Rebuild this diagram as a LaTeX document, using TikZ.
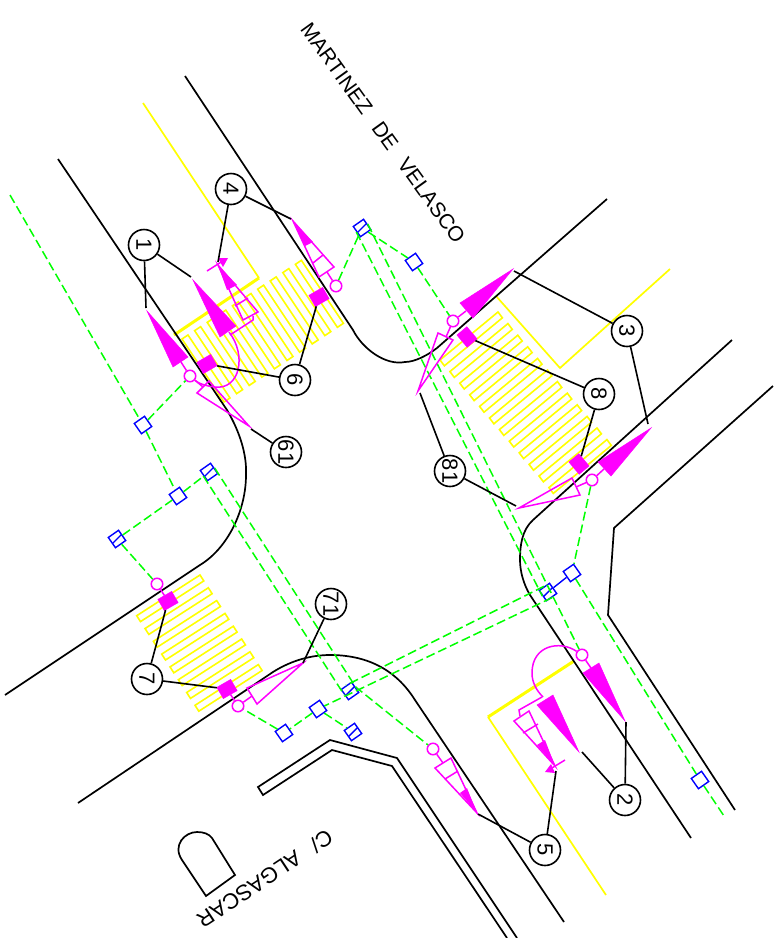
\documentclass[tikz,border=0pt]{standalone}
\usepackage{fontspec}
\setmainfont{Liberation Sans}
\newfontfamily\streetfont[WordSpace=2.6]{Liberation Sans}

\definecolor{sigpink}{RGB}{255,0,255}
\definecolor{ductgreen}{RGB}{0,255,0}
\definecolor{paintyellow}{RGB}{255,255,0}
\definecolor{pitblue}{RGB}{0,0,255}

\tikzset{
	kerb/.style={black, line width=1.7pt},
	paint/.style={paintyellow, line width=1.7pt},
	stopline/.style={paintyellow, line width=3pt},
	zebra/.style={paintyellow, line width=1.6pt},
	duct/.style={ductgreen, line width=1.5pt, dash pattern=on 9pt off 4pt},
	sig/.style={sigpink, line width=1.5pt},
	sigfill/.style={fill=sigpink, draw=sigpink, line width=0.5pt},
	head/.style={draw=sigpink, line width=1.5pt, circle, minimum size=11.5pt, inner sep=0pt},
	lamp/.style={fill=sigpink, draw=sigpink, minimum width=16pt, minimum height=13pt, inner sep=0pt},
	pit/.style={draw=pitblue, line width=1.4pt, minimum size=12.5pt, inner sep=0pt, rotate=35},
	pitx/.style={pit, path picture={\draw[pitblue, line width=1.4pt] (path picture bounding box.south west) -- (path picture bounding box.north east);}},
	numcircle/.style={draw, line width=1.6pt, circle, minimum size=31pt, inner sep=0pt, rotate=-90, font=\fontsize{22}{22}\selectfont},
	leader/.style={black, line width=1.6pt},
	street/.style={font=\streetfont\fontsize{21}{21}\selectfont}
}

\newcommand{\zebrarow}[9]{%
	\foreach \i in {1,...,#3}
		\draw[zebra] ({#1+(\i-1)*#4},{#2+(\i-1)*#5}) -- ++(#6,#7) -- ++(#8,#9) -- ++(-#6,-#7) -- cycle;
}

\begin{document}
\begin{tikzpicture}[x=1pt, y=-1pt]
	\useasboundingbox (0,0) rectangle (782,938);

	\zebrarow{182}{339}{10}{12.6}{-8.3}{42}{63}{6}{-4}
	\zebrarow{440}{360}{12}{9.9}{11.6}{58}{-48}{4.4}{5.8}
	\zebrarow{136.7}{615.7}{8}{8.33}{12.8}{63.3}{-40.7}{3.8}{5.9}

	\draw[paint] (143,103) -- (259,278);
	\draw[stopline] (259,278) -- (174,335);
	\draw[paint] (670,269) -- (560,368) -- (496,296);
	\draw[paint] (606,895) -- (488,717);
	\draw[stopline] (488,717) -- (574,661);

	\draw[kerb] (185,76) -- (353,330) .. controls (362,348) and (385,366) .. (405,362) .. controls (415,362) and (428,355) .. (437,348) -- (607,199);
	\draw[kerb] (58,159) -- (227,410) .. controls (240,432) and (247,455) .. (246,475) .. controls (246,510) and (228,548) .. (200,565) -- (5,695);
	\draw[kerb] (78,803) -- (273,672) .. controls (292,660) and (312,655) .. (330,655) .. controls (365,655) and (395,668) .. (415,700) -- (564,922);
	\draw[kerb] (732,340) -- (533,520) .. controls (522,530) and (520,545) .. (520,560) .. controls (520,572) and (524,585) .. (530,595) -- (691,838);
	\draw[kerb] (773,386) -- (614,528) -- (608,615) -- (735,810);
	\draw[kerb] (517,938) -- (397,758) -- (330,740) -- (258,787) -- (263,795) -- (332,750) -- (392,766) -- (507,938);
	\draw[kerb] (235,875) -- (206,896) -- (182,860) .. controls (172,845) and (185,832) .. (197,832) .. controls (204,832) and (209,834) .. (212,838) -- cycle;

	\node (martinez) [street, rotate=-54.3] at (383,133) {MARTINEZ DE VELASCO};
	\node (algascar) [street, font=\streetfont\fontsize{22}{22}\selectfont, rotate=213.5] at (265,879) {C/ ALGASCAR};

	\node (pa) [pit] at (143,425) {};
	\node (pb) [pit] at (178,496) {};
	\node (pc) [pitx] at (209,472) {};
	\node (pd) [pitx] at (117,539) {};
	\node (pe) [pitx] at (362,228) {};
	\node (pf) [pit] at (414,262) {};
	\node (pg) [pit] at (572,573) {};
	\node (ph) [pitx] at (548,592) {};
	\node (pi) [pit] at (700,780) {};
	\node (pj) [pitx] at (350,691) {};
	\node (pk) [pit] at (318,709) {};
	\node (pl) [pit] at (284,733) {};
	\node (pm) [pitx, rotate=-90] at (353,732) {};

	\node (ha) [head] at (190,376) {};
	\node (hb) [head] at (336,286) {};
	\node (hc) [head] at (453,321) {};
	\node (hd) [head] at (592,480) {};
	\node (he) [head] at (157,584) {};
	\node (hf) [head] at (238,706) {};
	\node (hg) [head] at (582,655) {};
	\node (hh) [head] at (433,749) {};

	\node (la) [lamp, rotate=30] at (207,364) {};
	\node (lb) [lamp, rotate=30] at (319,297) {};
	\node (lc) [lamp, rotate=-50] at (467,337) {};
	\node (ld) [lamp, rotate=-50] at (579,464) {};
	\node (le) [lamp, rotate=30] at (168,601) {};
	\node (lf) [lamp, rotate=30] at (227,689) {};

	\coordinate (ga) at (10,195);
	\coordinate (gb) at (724,816);
	\draw[duct] (ga) -- (pa);
	\draw[duct] (pa) -- (pb);
	\draw[duct] (pa) -- (ha);
	\draw[duct] (pd) -- (pb);
	\draw[duct] (pb) -- (pc);
	\draw[duct] (pd) -- (he);
	\draw[duct] (hb) -- (pe);
	\draw[duct] (pe) -- (pf);
	\draw[duct] (pf) -- (hc);
	\draw[duct] (pe.west) -- (ph.west);
	\draw[duct] (pe.east) -- (hg);
	\draw[duct] (hd) -- (pg);
	\draw[duct] (pg) -- (pi);
	\draw[duct] (pi) -- (gb);
	\draw[duct] (pc.west) -- (pj.west);
	\draw[duct] (pc.east) -- (pj.east) -- (hh);
	\draw[duct] (ph.north) -- (pj.north);
	\draw[duct] (ph.south) -- (pk);
	\draw[duct] (pk) -- (pl);
	\draw[duct] (pl) -- (hf);
	\draw[duct] (pk) -- (pm);
	\draw[pitblue, line width=1.4pt] (pg) -- (ph);

	\coordinate (ta) at (147,311);
	\coordinate (tb) at (193,280);
	\coordinate (tc) at (293,221);
	\coordinate (td) at (513,269);
	\coordinate (te) at (651,428);
	\coordinate (tf) at (625,721);
	\coordinate (tg) at (579,752);
	\coordinate (oa) at (249,426);
	\coordinate (ob) at (418,391);
	\coordinate (oc) at (519,508);
	\coordinate (od) at (303,663);
	\coordinate (oe) at (477,813);
	\coordinate (of) at (218,265);
	\coordinate (og) at (555,766);

	\draw[sigfill] (ta) -- (173,367) -- (188,357) -- cycle;
	\draw[sig] (181,362) -- (ha);
	\draw[sigfill] (tb) -- (220,337) -- (236,326) -- cycle;
	\draw[sig] (229,332) .. controls (247,355) and (240,390) .. (215,387) .. controls (205,386) and (198,383) .. (ha);
	\draw[sig] (oa) -- (209,381) -- (197,393) -- cycle;
	\draw[sig] (ha) -- (203,387);

	\draw[sig] (of) -- (243,320) -- (258,312) -- cycle;
	\draw[sig] (235,306) -- (248,298);
	\fill[sigpink] (of) -- (227,290) -- (237,285) -- cycle;
	\draw[sig] (253,316) -- (253,320) -- (230,335);
	\draw[sig] (207,271) -- (226,259);
	\fill[sigpink] (228,258) -- (218,258) -- (223,267) -- cycle;

	\draw[sig] (tc) -- (319,277) -- (334,267) -- cycle;
	\fill[sigpink] (tc) -- (305,246) -- (313,242) -- cycle;
	\draw[sig] (313,263) -- (323,255);
	\draw[sig] (327,272) -- (hb);

	\draw[sigfill] (td) -- (460,303) -- (473,318) -- cycle;
	\draw[sig] (466,311) -- (hc);
	\draw[sig] (ob) -- (438,333) -- (453,340) -- cycle;
	\draw[sig] (hc) -- (446,337);

	\draw[sigfill] (te) -- (598,462) -- (611,476) -- cycle;
	\draw[sig] (604,469) -- (hd);
	\draw[sig] (oc) -- (572,478) -- (580,495) -- cycle;
	\draw[sig] (hd) -- (576,487);

	\draw[sig] (od) -- (247,688) -- (257,704) -- cycle;
	\draw[sig] (hf) -- (252,696);
	\draw[sig] (he) -- (le);
	\draw[sig] (hf) -- (lf);

	\draw[sigfill] (tf) -- (583,673) -- (599,663) -- cycle;
	\draw[sig] (hg) -- (591,668);
	\draw[sigfill] (tg) -- (537,705) -- (553,695) -- cycle;
	\draw[sig] (hg) .. controls (560,640) and (532,645) .. (532,673) .. controls (532,682) and (536,690) .. (543,697);

	\draw[sig] (og) -- (514,721) -- (529,711) -- cycle;
	\draw[sig] (523,733) -- (538,724);
	\fill[sigpink] (og) -- (537,745) -- (545,740) -- cycle;
	\draw[sig] (520,716) -- (519,710) -- (542,697);
	\draw[sig] (565,760) -- (547,771);
	\fill[sigpink] (545,772) -- (555,773) -- (551,764) -- cycle;

	\draw[sig] (oe) -- (435,768) -- (451,758) -- cycle;
	\draw[sig] (445,779) -- (458,771);
	\fill[sigpink] (oe) -- (460,793) -- (467,788) -- cycle;
	\draw[sig] (hh) -- (443,763);

	\node (one) [numcircle] at (144,245) {1};
	\node (four) [numcircle] at (231,189) {4};
	\node (six) [numcircle] at (295,380) {6};
	\node (sixone) [numcircle] at (286,452) {61};
	\node (eight) [numcircle] at (599,394) {8};
	\node (three) [numcircle] at (627,331) {3};
	\node (eightone) [numcircle] at (450,471) {81};
	\node (sevenone) [numcircle] at (331,604) {71};
	\node (seven) [numcircle] at (147,679) {7};
	\node (two) [numcircle] at (625,800) {2};
	\node (five) [numcircle] at (545,850) {5};

	\coordinate (ea) at (146,308);
	\coordinate (eb) at (191,277);
	\coordinate (ec) at (218,262);
	\coordinate (ed) at (291,219);
	\coordinate (ee) at (251,429);
	\coordinate (ef) at (514,271);
	\coordinate (eg) at (648,424);
	\coordinate (eh) at (420,393);
	\coordinate (ei) at (516,506);
	\coordinate (ej) at (582,752);
	\coordinate (ek) at (626,722);
	\coordinate (el) at (556,771);
	\coordinate (em) at (478,814);

	\draw[leader] (one) -- (ea);
	\draw[leader] (one) -- (eb);
	\draw[leader] (four) -- (ec);
	\draw[leader] (four) -- (ed);
	\draw[leader] (six) -- (lb);
	\draw[leader] (six) -- (la);
	\draw[leader] (sixone) -- (ee);
	\draw[leader] (eight) -- (lc);
	\draw[leader] (eight) -- (ld);
	\draw[leader] (three) -- (ef);
	\draw[leader] (three) -- (eg);
	\draw[leader] (eightone) -- (eh);
	\draw[leader] (eightone) -- (ei);
	\draw[leader] (sevenone) -- (od);
	\draw[leader] (seven) -- (le);
	\draw[leader] (seven) -- (lf);
	\draw[leader] (two) -- (ej);
	\draw[leader] (two) -- (ek);
	\draw[leader] (five) -- (el);
	\draw[leader] (five) -- (em);
\end{tikzpicture}
\end{document}
